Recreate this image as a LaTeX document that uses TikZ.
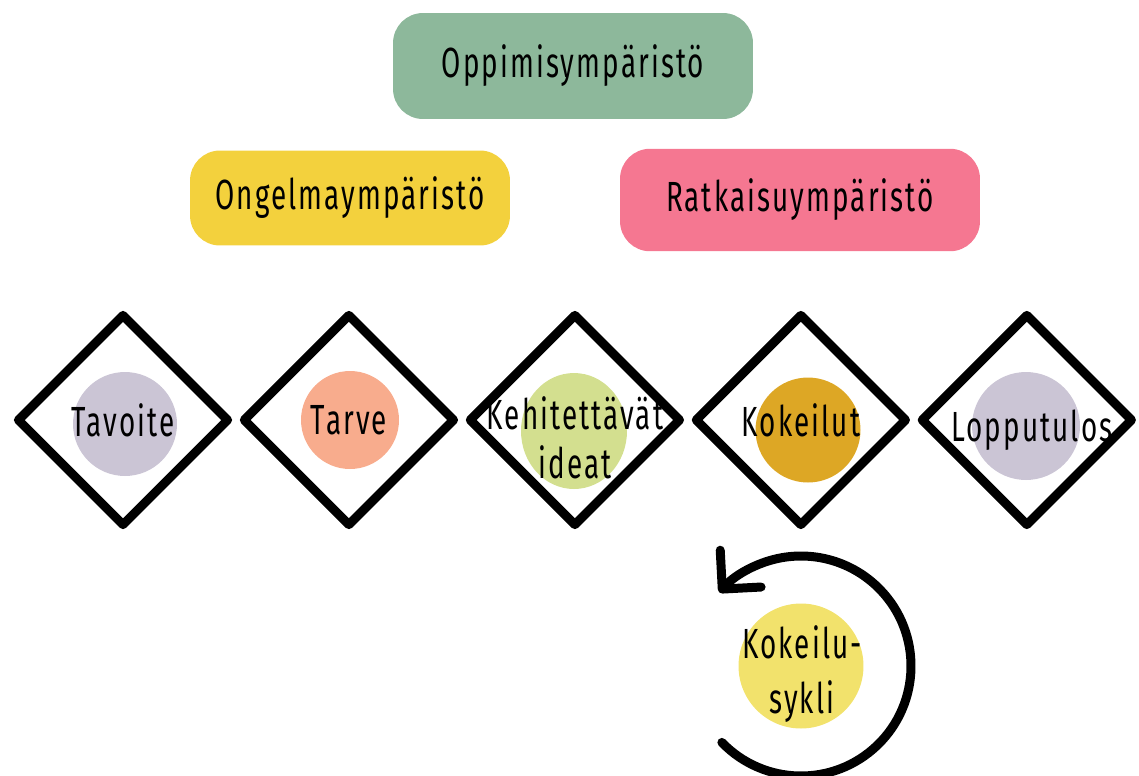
\documentclass[tikz,border=0pt]{standalone}
\usepackage{fontspec}
\setmainfont{Fira Sans}[FakeStretch=0.66,LetterSpace=5]
\usetikzlibrary{arrows.meta,positioning,shapes.geometric}
\definecolor{sagegreen}{HTML}{8DB89B}
\definecolor{sunyellow}{HTML}{F3D13D}
\definecolor{rosepink}{HTML}{F57791}
\definecolor{lavender}{HTML}{CBC5D5}
\definecolor{salmon}{HTML}{F8AC8D}
\definecolor{limegreen}{HTML}{D3DF8F}
\definecolor{ochre}{HTML}{DDA725}
\definecolor{paleyellow}{HTML}{F2E26C}
\tikzset{
    %Define style for the coloured areas
    areabox/.style={
           rectangle,
           rounded corners=0.6cm,
           inner sep=0pt,
           font=\fontsize{24}{28}\selectfont},
    %Define style for the steps
    stepbox/.style={
           diamond,
           draw=black,
           line width=0.18cm,
           line join=round,
           aspect=1,
           minimum width=4.26cm,
           minimum height=4.26cm,
           inner sep=0pt},
    spot/.style={
           circle,
           inner sep=0pt,
           minimum size=#1},
    steptext/.style={
           align=center,
           inner sep=0pt,
           font=\fontsize{24}{28}\selectfont},
    cyclearrow/.style={
           line width=0.18cm,
           line cap=round,
           -{Straight Barb[round,length=0.55cm,width=1.1cm]}}
}

\begin{document}
\begin{tikzpicture}[x=0.02cm, y=0.02cm, node distance=0.08cm]
\useasboundingbox (0,0) rectangle (1139,-775);
%areas
\node[areabox, fill=sagegreen, minimum width=7.2cm, minimum height=2.12cm] (oppimis) at (573,-66) {Oppimisympäristö};
\node[areabox, fill=sunyellow, minimum width=6.4cm, minimum height=1.9cm] (ongelma) at (350,-198) {Ongelmaympäristö};
\node[areabox, fill=rosepink, minimum width=7.2cm, minimum height=2.05cm] (ratkaisu) at (800,-200) {Ratkaisuympäristö};
%steps
\node[stepbox] (tavoite) at (123,-420) {};
\node[stepbox, right=of tavoite] (tarve) {};
\node[stepbox, right=of tarve] (ideat) {};
\node[stepbox, right=of ideat] (kokeilut) {};
\node[stepbox, right=of kokeilut] (tulos) {};
\node[spot=2.08cm, fill=lavender] (tavoitespot) at (125,-424) {};
\node[spot=1.96cm, fill=salmon] (tarvespot) at (350,-420) {};
\node[ellipse, inner sep=0pt, minimum width=2.12cm, minimum height=2.32cm, fill=limegreen] (ideatspot) at (574,-431) {};
\node[spot=2.1cm, fill=ochre] (kokeilutspot) at (808,-430) {};
\node[spot=2.16cm, fill=lavender] (tulosspot) at (1026,-426) {};
\node[steptext] (tavoiteteksti) at (tavoite) {Tavoite};
\node[steptext] (tarveteksti) at (tarve) {Tarve};
\node[steptext] (ideatteksti) at ([yshift=-0.35cm]ideat.center) {Kehitettävät\\ideat};
\node[steptext] (kokeilutteksti) at (kokeilut) {Kokeilut};
\node[steptext] (tulosteksti) at ([shift={(0.1cm,-0.2cm)}]tulos.center) {Lopputulos};
%cycle
\node[spot=2.5cm, fill=paleyellow] (syklispot) at (801,-666) {};
\node[steptext, font=\fontsize{24}{31}\selectfont] (syklitekst) at (802,-674) {Kokeilu-\\sykli};
\draw[cyclearrow] ([shift={(-136:110)}]syklispot.center) arc[start angle=-136, end angle=138, radius=110];
\end{tikzpicture}
\end{document}
